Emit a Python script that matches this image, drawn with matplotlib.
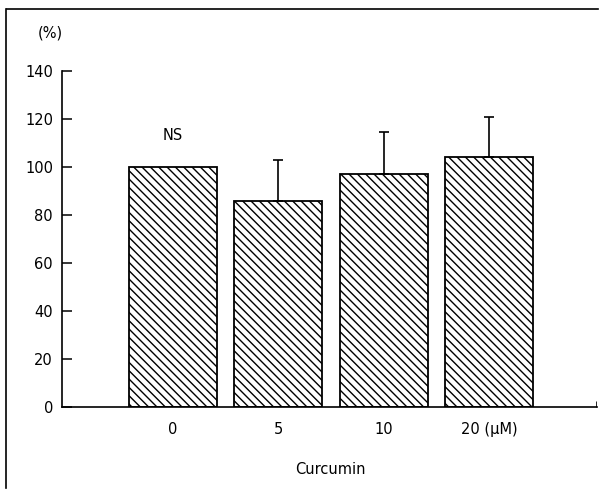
import matplotlib
matplotlib.use("Agg")
import matplotlib.pyplot as plt
from matplotlib.lines import Line2D

# values
doses = ["0", "5", "10", "20 (\u03bcM)"]
means = [100, 86, 97, 104]
upper_err = [0, 17, 17.5, 17]
yticks = [0, 20, 40, 60, 80, 100, 120, 140]

plt.rcParams["font.family"] = ["DejaVu Sans"]
plt.rcParams["hatch.linewidth"] = 1.0

fig = plt.figure(figsize=(6.07, 4.93), dpi=100)
ax = fig.add_axes([0.1021, 0.1744, 0.8814, 0.6816])

x = list(range(len(doses)))
ax.bar(x, means, width=0.836, color="white", edgecolor="black",
       linewidth=1.3, hatch="\\\\\\\\")
for xi, m, e in zip(x, means, upper_err):
    if e > 0:
        ax.errorbar(xi, m, yerr=[[0], [e]], fmt="none", ecolor="black",
                    elinewidth=1.2, capsize=3.5, capthick=1.2)

ax.set_xlim(-1.054, 4.026)
ax.set_ylim(0, 140)
ax.set_yticks(yticks)
ax.set_xticks(x)
ax.set_xticklabels(doses, fontsize=10.5)
ax.tick_params(axis="y", direction="in", length=7, width=1.1, labelsize=10.5, pad=6.5)
ax.tick_params(axis="x", length=0, pad=11)
ax.set_xticks([4.02], minor=True)
ax.tick_params(axis="x", which="minor", direction="in", length=4)
for s in ["top", "right"]:
    ax.spines[s].set_visible(False)
ax.spines["left"].set_linewidth(1.2)
ax.spines["bottom"].set_linewidth(1.2)

ax.text(0, 113, "NS", ha="center", va="center", fontsize=10.5)
fig.text(50 / 607, 1 - 33 / 493, "(%)", ha="center", va="center", fontsize=10.5)
fig.text(330 / 607, 1 - 470 / 493, "Curcumin", ha="center", va="center", fontsize=10.5)

# outer frame (top and left only)
fig.add_artist(Line2D([7 / 607, 598 / 607], [1 - 9 / 493, 1 - 9 / 493],
                      transform=fig.transFigure, color="black", linewidth=1.2))
fig.add_artist(Line2D([6 / 607, 6 / 607], [1 - 9 / 493, 0.01],
                      transform=fig.transFigure, color="black", linewidth=1.2))

fig.savefig("out.png", dpi=100)
